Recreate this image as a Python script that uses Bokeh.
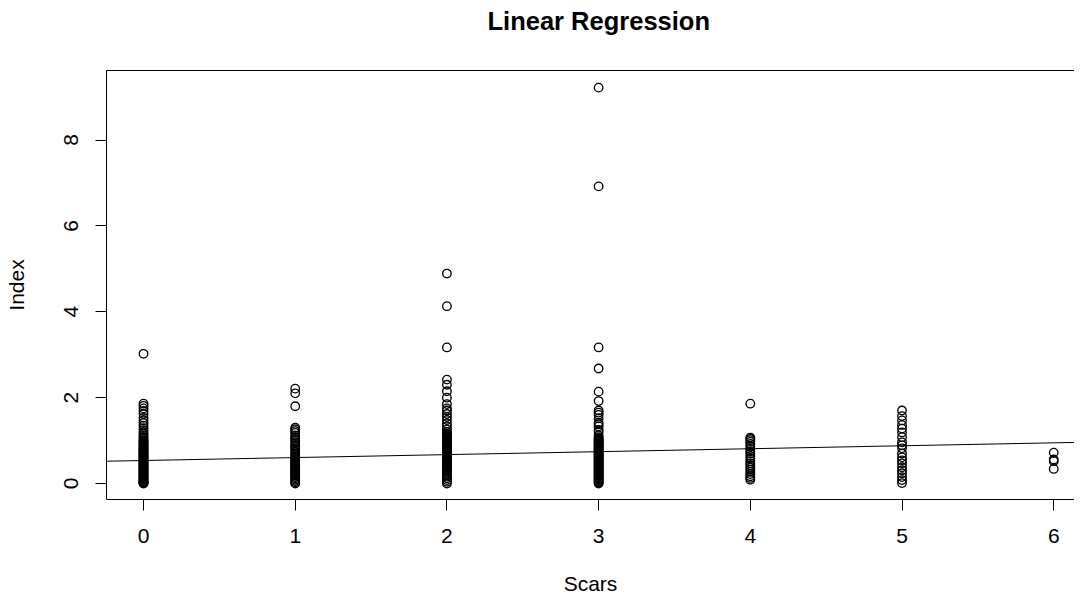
from bokeh.plotting import figure
from bokeh.models import LinearAxis, FixedTicker, Slope, Range1d, ColumnDataSource
from bokeh.embed import file_html
from bokeh.resources import INLINE

# ---- data ----
scars0 = [3.02, 1.86, 1.81, 1.75, 1.69, 1.62, 1.53, 1.47, 1.41, 1.35, 1.29, 1.24, 1.19,
          1.15, 1.11, 1.07, 1.04, 1.01, 0.98, 0.96, 0.93, 0.91, 0.89, 0.86, 0.84, 0.82,
          0.80, 0.78, 0.76, 0.74, 0.72, 0.70, 0.68, 0.66, 0.64, 0.62, 0.60, 0.58, 0.56,
          0.54, 0.52, 0.50, 0.48, 0.46, 0.44, 0.42, 0.40, 0.38, 0.36, 0.34, 0.32, 0.30,
          0.28, 0.26, 0.24, 0.22, 0.20, 0.18, 0.16, 0.14, 0.12, 0.10, 0.08, 0.06, 0.04,
          0.03, 0.02, 0.01, 0.00]
scars1 = [2.21, 2.10, 1.80, 1.30, 1.26, 1.22, 1.18, 1.12, 1.08, 1.04, 1.00, 0.96, 0.90,
          0.86, 0.82, 0.78, 0.74, 0.70, 0.66, 0.63, 0.60, 0.57, 0.54, 0.51, 0.48, 0.45,
          0.42, 0.39, 0.36, 0.33, 0.30, 0.27, 0.24, 0.21, 0.18, 0.15, 0.12, 0.09, 0.06,
          0.03, 0.00]
scars2 = [4.89, 4.13, 3.17, 2.42, 2.30, 2.15, 2.00, 1.85, 1.75, 1.70, 1.62, 1.55, 1.48,
          1.40, 1.33, 1.26, 1.20, 1.16, 1.14, 1.12, 1.10, 1.08, 1.06, 1.04, 1.02, 1.00,
          0.98, 0.96, 0.94, 0.92, 0.90, 0.88, 0.86, 0.84, 0.82, 0.80, 0.78, 0.76, 0.74,
          0.72, 0.70, 0.68, 0.66, 0.64, 0.62, 0.60, 0.58, 0.56, 0.54, 0.52, 0.50, 0.48,
          0.46, 0.44, 0.42, 0.40, 0.38, 0.35, 0.32, 0.28, 0.24, 0.20, 0.16, 0.12, 0.08,
          0.04, 0.00]
scars3 = [9.22, 6.92, 3.17, 2.68, 2.14, 1.92, 1.70, 1.65, 1.60, 1.52, 1.42, 1.38, 1.33,
          1.25, 1.20, 1.12, 1.08, 1.05, 1.02, 1.00, 0.98, 0.96, 0.94, 0.92, 0.90, 0.88,
          0.86, 0.84, 0.82, 0.80, 0.78, 0.76, 0.74, 0.72, 0.70, 0.68, 0.66, 0.64, 0.62,
          0.60, 0.58, 0.56, 0.54, 0.52, 0.50, 0.48, 0.46, 0.44, 0.42, 0.40, 0.38, 0.36,
          0.34, 0.32, 0.30, 0.28, 0.26, 0.24, 0.22, 0.20, 0.18, 0.16, 0.14, 0.12, 0.10,
          0.08, 0.06, 0.04, 0.02, 0.00]
scars4 = [1.86, 1.07, 1.04, 1.01, 0.97, 0.92, 0.86, 0.80, 0.75, 0.70, 0.64, 0.58, 0.52,
          0.47, 0.42, 0.37, 0.32, 0.27, 0.22, 0.17, 0.13, 0.09]
scars5 = [1.70, 1.57, 1.47, 1.36, 1.28, 1.19, 1.08, 0.96, 0.89, 0.82, 0.70, 0.61, 0.54,
          0.47, 0.38, 0.31, 0.24, 0.15, 0.08, 0.01]
scars6 = [0.72, 0.56, 0.52, 0.34]

groups = [0, 1, 2, 3, 4, 5, 6]
index_by_group = [scars0, scars1, scars2, scars3, scars4, scars5, scars6]

fit_intercept = 0.536
fit_slope = 0.0686

x_ticks = [0, 1, 2, 3, 4, 5, 6]
y_ticks = [0, 2, 4, 6, 8]

xs, ys = [], []
for g, vals in zip(groups, index_by_group):
    xs += [g] * len(vals)
    ys += vals
src = ColumnDataSource(data=dict(x=xs, y=ys))

FONT = "Liberation Sans"

p = figure(width=1074, height=597,
           x_range=Range1d(-0.244, 6.137), y_range=Range1d(-0.372, 9.619),
           x_axis_type=None, y_axis_type=None,
           output_backend="svg", toolbar_location=None,
           min_border_left=106, min_border_right=0,
           min_border_top=70, min_border_bottom=98)
p.outline_line_color = None
p.background_fill_color = "white"
p.border_fill_color = "white"

p.title.text = "Linear Regression"
p.title.align = "left"
p.title.text_font = FONT
p.title.text_font_style = "bold"
p.title.text_font_size = "25.5px"
p.title.text_color = "black"
p.title.offset = 381
p.title.standoff = 0

def style_axis(ax):
    ax.axis_line_color = "black"
    ax.axis_line_width = 1
    ax.major_tick_line_color = "black"
    ax.major_tick_in = 0
    ax.major_tick_out = 11
    ax.minor_tick_line_color = None
    ax.major_label_text_font = FONT
    ax.major_label_text_font_size = "21px"
    ax.major_label_text_color = "black"
    ax.axis_label_text_font = FONT
    ax.axis_label_text_font_size = "21px"
    ax.axis_label_text_font_style = "normal"
    ax.axis_label_text_color = "black"

xaxis = LinearAxis(ticker=FixedTicker(ticks=x_ticks), axis_label="Scars")
style_axis(xaxis)
xaxis.major_label_standoff = 18
xaxis.axis_label_standoff = 26
p.add_layout(xaxis, "below")

yaxis = LinearAxis(ticker=FixedTicker(ticks=y_ticks), axis_label="Index")
style_axis(yaxis)
yaxis.major_label_orientation = "vertical"
yaxis.major_label_standoff = 17
yaxis.axis_label_standoff = 34
p.add_layout(yaxis, "left")

# top border of the box (line only); its invisible label keeps the title clear of the box
top = LinearAxis(ticker=FixedTicker(ticks=[]), axis_label=".")
top.axis_line_color = "black"
top.major_tick_line_color = None
top.minor_tick_line_color = None
top.major_label_text_font_size = "0px"
top.axis_label_text_font_size = "20px"
top.axis_label_text_alpha = 0
top.axis_label_standoff = 19
p.add_layout(top, "above")

p.scatter("x", "y", source=src, marker="circle", size=8.5,
          fill_color=None, line_color="black", line_width=1.35)

p.add_layout(Slope(gradient=fit_slope, y_intercept=fit_intercept,
                   line_color="black", line_width=1))

open("out.html", "w").write(file_html(p, INLINE))
